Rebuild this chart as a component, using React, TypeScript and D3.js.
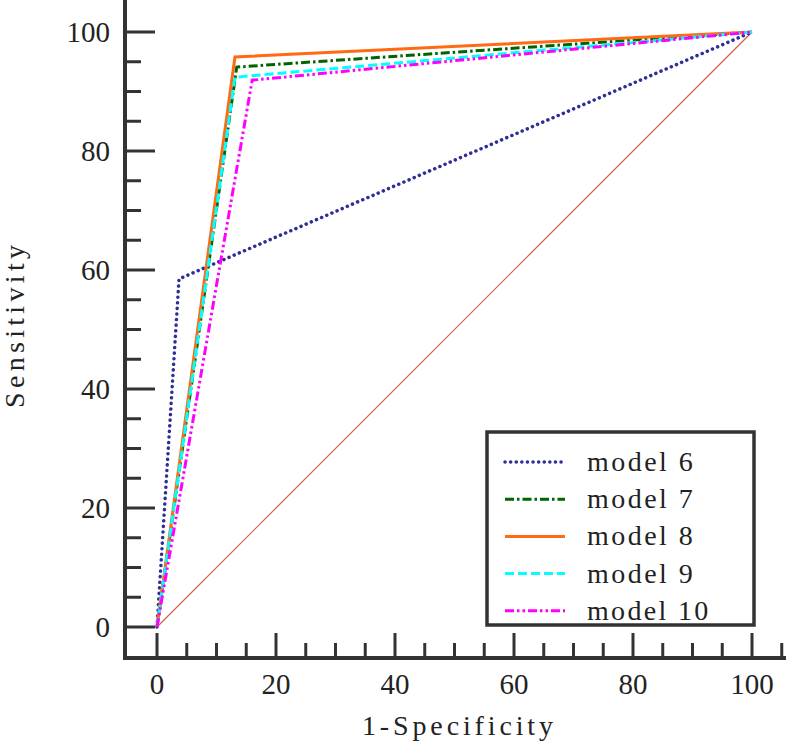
import React from "react";
import * as d3 from "d3";

const seriesNames = ["model 6", "model 7", "model 8", "model 9", "model 10"];
const fprValues = [
  [0, 3.7, 100],
  [0, 13.4, 100],
  [0, 13.1, 100],
  [0, 13.1, 100],
  [0, 16.0, 100],
];
const tprValues = [
  [0, 58.5, 100],
  [0, 94.1, 100],
  [0, 95.8, 100],
  [0, 92.4, 100],
  [0, 91.9, 100],
];
const majorTicks = [0, 20, 40, 60, 80, 100];
const minorTicks = d3.range(5, 106, 5).filter((v) => v % 20 !== 0);
const xTitle = "1-Specificity";
const yTitle = "Sensitivity";

const colors = ["#2e2e96", "#006400", "#ff6a13", "#00ffff", "#ff00ff"];
const dashes = ["0.1,5.5", "9,3,2.5,3", "", "9,4", "9,3,2.5,3,2.5,3"];
const caps = ["round", "butt", "butt", "butt", "butt"];
const widths = [3.5, 3, 3, 3, 3];

const W = 786;
const H = 744;
const axisColor = "#333333";
const FONT = "Liberation Serif, DejaVu Serif, serif";

export default function App() {
  const x = d3.scaleLinear().domain([0, 100]).range([157, 752]);
  const y = d3.scaleLinear().domain([0, 100]).range([627, 32]);
  const xAxisY = 658;
  const yAxisX = 125;
  const line = d3
    .line<[number, number]>()
    .x((d) => x(d[0]))
    .y((d) => y(d[1]));

  const legendX = 487;
  const legendY = 432;
  const legendW = 267;
  const legendH = 193;
  const rowY = (i: number) => 462 + i * 37.2;

  return (
    <svg
      width={W}
      height={H}
      style={{ position: "absolute", left: 0, top: 0, background: "#fff" }}
    >
      {/* diagonal reference */}
      <line
        x1={x(0)}
        y1={y(0)}
        x2={x(100)}
        y2={y(100)}
        stroke="#cc5f50"
        strokeWidth={1.2}
      />
      {/* ROC curves */}
      {seriesNames.map((name, i) => {
        const pts = fprValues[i].map((v, j) => [v, tprValues[i][j]] as [number, number]);
        return (
          <path
            key={name}
            d={line(pts) || ""}
            fill="none"
            stroke={colors[i]}
            strokeWidth={widths[i]}
            strokeDasharray={dashes[i] || undefined}
            strokeLinecap={caps[i] as any}
            strokeLinejoin="miter"
          />
        );
      })}

      {/* axes */}
      <line x1={yAxisX} y1={0} x2={yAxisX} y2={xAxisY + 2} stroke={axisColor} strokeWidth={4} />
      <line x1={yAxisX - 2} y1={xAxisY} x2={W} y2={xAxisY} stroke={axisColor} strokeWidth={4} />

      {/* x ticks */}
      {majorTicks.map((t) => (
        <g key={"xm" + t}>
          <line x1={x(t)} x2={x(t)} y1={xAxisY} y2={xAxisY - 25} stroke={axisColor} strokeWidth={3} />
          <text x={x(t)} y={694} fontSize={29} textAnchor="middle" fill="#222" fontFamily={FONT}>
            {t}
          </text>
        </g>
      ))}
      {minorTicks.map((t) => (
        <line key={"xn" + t} x1={x(t)} x2={x(t)} y1={xAxisY} y2={xAxisY - 15} stroke={axisColor} strokeWidth={3} />
      ))}

      {/* y ticks */}
      {majorTicks.map((t) => (
        <g key={"ym" + t}>
          <line x1={yAxisX} x2={yAxisX + 30} y1={y(t)} y2={y(t)} stroke={axisColor} strokeWidth={3} />
          <text x={110} y={y(t) + 10} fontSize={29} textAnchor="end" fill="#222" fontFamily={FONT}>
            {t}
          </text>
        </g>
      ))}
      {minorTicks.filter((t) => t < 105).map((t) => (
        <line key={"yn" + t} x1={yAxisX} x2={yAxisX + 16} y1={y(t)} y2={y(t)} stroke={axisColor} strokeWidth={3} />
      ))}

      {/* axis titles */}
      <text
        x={362}
        y={735}
        fontSize={28}
        fill="#222"
        textLength={191}
        lengthAdjust="spacing"
        fontFamily={FONT}
      >
        {xTitle}
      </text>
      <text
        transform={`translate(24, 408) rotate(-90)`}
        fontSize={28}
        fill="#222"
        textLength={163}
        lengthAdjust="spacing"
        fontFamily={FONT}
      >
        {yTitle}
      </text>

      {/* legend */}
      <rect
        x={legendX}
        y={legendY}
        width={legendW}
        height={legendH}
        fill="#fff"
        stroke={axisColor}
        strokeWidth={3.5}
      />
      {seriesNames.map((name, i) => (
        <g key={"lg" + name}>
          <line
            x1={505}
            x2={565}
            y1={rowY(i)}
            y2={rowY(i)}
            stroke={colors[i]}
            strokeWidth={widths[i]}
            strokeDasharray={dashes[i] || undefined}
            strokeLinecap={caps[i] as any}
          />
          <text
            x={587}
            y={rowY(i) + 9}
            fontSize={28}
            fill="#222"
            textLength={15.4 * name.length - 2}
            lengthAdjust="spacing"
            fontFamily={FONT}
          >
            {name}
          </text>
        </g>
      ))}
    </svg>
  );
}
